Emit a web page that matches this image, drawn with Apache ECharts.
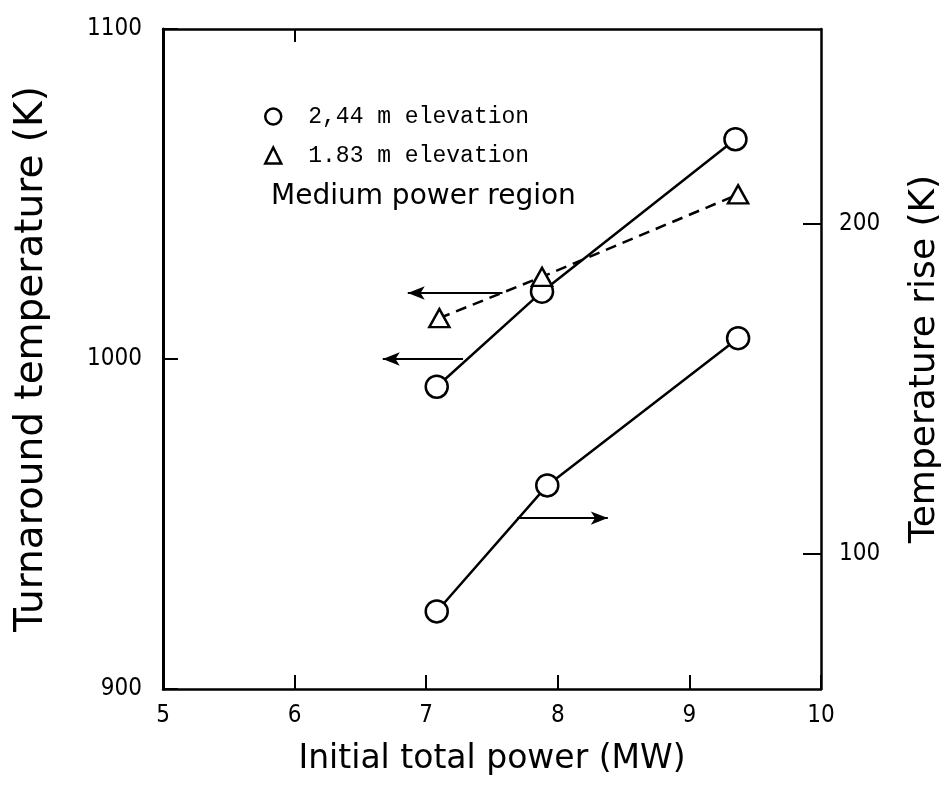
<!DOCTYPE html>
<html>
<head>
<meta charset="utf-8">
<script src="https://cdn.jsdelivr.net/npm/echarts@6/dist/echarts.min.js"></script>
<style>
  html, body { margin: 0; padding: 0; background: #fff; }
  #chart { width: 946px; height: 792px; }
</style>
</head>
<body>
<div id="chart"></div>
<script>
// Medium power region: turnaround temperature and temperature rise vs initial power
const xTicks = [5, 6, 7, 8, 9, 10];
const topTicks = [6];
const leftTicks = [900, 1000, 1100];
const rightTicks = [100, 200];

// 2.44 m elevation, turnaround temperature (left axis)
const power244 = [7.08, 7.88, 9.35];
const turnaround244 = [991.6, 1020.4, 1066.6];

// 1.83 m elevation, turnaround temperature (left axis)
const power183 = [7.10, 7.88, 9.37];
const turnaround183 = [1012.4, 1024.9, 1049.9];

// 2.44 m elevation, temperature rise (right axis)
const powerRise = [7.08, 7.92, 9.37];
const rise244 = [82.5, 120.7, 165.3];

// arrows pointing at the axis each curve belongs to: [xFrom, xTo, y]
const arrow183 = [7.58, 6.86, 1020.0];
const arrow244 = [7.28, 6.67, 1000.0];
const arrowRise = [7.69, 8.38, 110.8];

const pairs = (xs, ys) => xs.map((x, i) => [x, ys[i]]);

const tickFont = "'DejaVu Sans Condensed', 'Liberation Sans', sans-serif";
const titleFont = "'DejaVu Sans', sans-serif";
const black = '#000';
const plain = v => String(v);

const markerStyle = { color: '#fff', borderColor: black, borderWidth: 2.5 };

function arrowLine(a, name) {
  return {
    silent: true,
    symbol: ['none', 'arrow'],
    symbolSize: [10, 17],
    label: { show: false },
    lineStyle: { color: black, width: 2.2, type: 'solid' },
    data: [[{ coord: [a[0], a[2]], name: name }, { coord: [a[1], a[2]] }]]
  };
}

const chart = echarts.init(document.getElementById('chart'));
chart.setOption({
  animation: false,
  backgroundColor: '#fff',
  grid: { left: 163, right: 125, top: 29, bottom: 103, containLabel: false, outerBoundsMode: 'none' },
  title: {
    text: 'Medium power region',
    left: 266, top: 178,
    textStyle: { fontFamily: titleFont, fontSize: 28, fontWeight: 'normal', color: black }
  },
  legend: {
    orient: 'vertical',
    left: 259, top: 100,
    itemGap: 16,
    itemWidth: 16, itemHeight: 16,
    textStyle: { fontFamily: "'Liberation Mono', 'DejaVu Sans Mono', monospace", fontSize: 23, color: black, padding: [0, 0, 0, 22] },
    itemStyle: { color: '#fff', borderColor: black, borderWidth: 2.5 },
    data: [
      { name: '2,44 m elevation', icon: 'circle' },
      { name: '1.83 m elevation', icon: 'triangle' }
    ]
  },
  xAxis: [{
    type: 'value', min: 5, max: 10, interval: 1,
    name: 'Initial total power (MW)', nameLocation: 'middle', nameGap: 54,
    nameTextStyle: { fontFamily: titleFont, fontSize: 33, color: black },
    axisLine: { lineStyle: { color: black, width: 2.5 } },
    axisTick: { inside: true, length: 14, lineStyle: { color: black, width: 2 } },
    axisLabel: { fontFamily: tickFont, fontSize: 24, color: black, margin: 15,
      customValues: xTicks, formatter: plain },
    splitLine: { show: false }
  }, {
    type: 'value', min: 5, max: 10, interval: 1, position: 'top',
    axisLine: { lineStyle: { color: black, width: 2.5 } },
    axisTick: { inside: true, length: 13, lineStyle: { color: black, width: 2 },
      customValues: topTicks },
    axisLabel: { show: false },
    splitLine: { show: false }
  }],
  yAxis: [{
    type: 'value', min: 900, max: 1100, interval: 100,
    name: 'Turnaround temperature (K)', nameLocation: 'middle', nameGap: 112, nameRotate: 90,
    nameTextStyle: { fontFamily: titleFont, fontSize: 39, color: black },
    axisLine: { lineStyle: { color: black, width: 3 } },
    axisTick: { inside: true, length: 15, lineStyle: { color: black, width: 2 } },
    axisLabel: { fontFamily: tickFont, fontSize: 24, color: black, margin: 21,
      customValues: leftTicks, formatter: plain },
    splitLine: { show: false }
  }, {
    type: 'value', min: 59, max: 259, position: 'right',
    name: 'Temperature rise (K)', nameLocation: 'middle', nameGap: 86, nameRotate: 90,
    nameTextStyle: { fontFamily: titleFont, fontSize: 36, color: black },
    axisLine: { show: true, lineStyle: { color: black, width: 2.5 } },
    axisTick: { show: true, inside: true, length: 18, lineStyle: { color: black, width: 2 },
      customValues: rightTicks },
    axisLabel: { fontFamily: tickFont, fontSize: 24, color: black, margin: 18,
      customValues: rightTicks, formatter: plain },
    splitLine: { show: false }
  }],
  series: [{
    name: '2,44 m elevation', type: 'line', xAxisIndex: 0, yAxisIndex: 0,
    data: pairs(power244, turnaround244),
    symbol: 'circle', symbolSize: 22, itemStyle: markerStyle,
    lineStyle: { color: black, width: 2.5 },
    markLine: arrowLine(arrow244, 'left244')
  }, {
    name: '1.83 m elevation', type: 'line', xAxisIndex: 0, yAxisIndex: 0,
    data: pairs(power183, turnaround183),
    symbol: 'triangle', symbolSize: [20, 18], itemStyle: markerStyle,
    lineStyle: { color: black, width: 2.5, type: [11, 7] },
    markLine: arrowLine(arrow183, 'left183')
  }, {
    name: '2,44 m elevation', type: 'line', xAxisIndex: 0, yAxisIndex: 1,
    data: pairs(powerRise, rise244),
    symbol: 'circle', symbolSize: 22, itemStyle: markerStyle,
    lineStyle: { color: black, width: 2.5 },
    markLine: arrowLine(arrowRise, 'rise244')
  }]
});
</script>
</body>
</html>
